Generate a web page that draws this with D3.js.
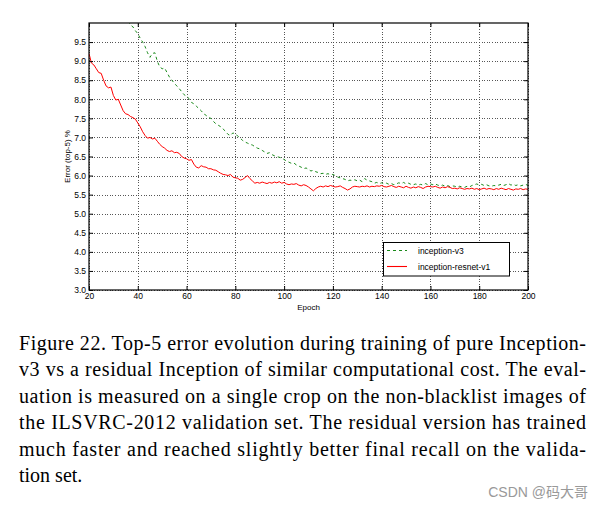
<!DOCTYPE html>
<html><head><meta charset="utf-8">
<script src="https://cdn.jsdelivr.net/npm/d3@7/dist/d3.min.js"></script>
<style>
html,body{margin:0;padding:0;background:#fff;}
svg{display:block;}
.cap{font-family:"Liberation Serif","Times New Roman",serif;}
</style></head>
<body>
<script>
// ---- DATA ----
const resnetEpochStart = 20;
const resnetValues = [
9.20,8.95,8.90,8.80,8.70,8.68,8.50,8.35,8.30,8.32,
8.10,7.98,8.00,7.85,7.70,7.62,7.60,7.55,7.52,7.48,
7.38,7.28,7.15,7.05,6.98,7.00,6.96,6.98,6.90,6.82,
6.76,6.72,6.66,6.63,6.65,6.60,6.61,6.58,6.50,6.46,
6.44,6.40,6.42,6.30,6.22,6.20,6.26,6.23,6.22,6.18,
6.18,6.15,6.14,6.10,6.06,6.03,6.02,6.00,6.03,5.96,
5.94,5.93,5.88,5.90,5.95,6.00,5.92,5.86,5.80,5.82,
5.80,5.83,5.81,5.79,5.82,5.80,5.83,5.81,5.84,5.80,
5.82,5.78,5.76,5.78,5.77,5.79,5.75,5.73,5.76,5.74,
5.70,5.65,5.60,5.66,5.70,5.72,5.70,5.73,5.71,5.74,
5.72,5.70,5.71,5.73,5.69,5.66,5.62,5.65,5.70,5.72,
5.71,5.70,5.72,5.71,5.73,5.70,5.72,5.71,5.73,5.72,
5.74,5.71,5.70,5.72,5.74,5.71,5.69,5.72,5.70,5.68,
5.72,5.69,5.67,5.70,5.68,5.71,5.69,5.66,5.70,5.72,
5.71,5.70,5.72,5.69,5.67,5.70,5.68,5.71,5.69,5.66,
5.67,5.65,5.68,5.66,5.64,5.66,5.65,5.67,5.64,5.66,
5.63,5.65,5.67,5.64,5.66,5.65,5.63,5.66,5.64,5.67,
5.65,5.63,5.66,5.64,5.62,5.65,5.64,5.66,5.63,5.65,
5.64
];
const v3EpochStart = 36;
const v3Values = [
10.05,9.95,9.90,9.80,9.72,9.60,9.50,9.38,9.22,9.10,
9.20,9.22,9.00,8.85,8.80,8.82,8.70,8.58,8.50,8.42,
8.35,8.28,8.20,8.12,8.08,8.02,7.92,7.88,7.82,7.76,
7.70,7.62,7.58,7.52,7.50,7.42,7.36,7.32,7.28,7.22,
7.16,7.08,7.05,7.12,7.08,7.04,6.98,6.92,6.88,6.85,
6.82,6.80,6.76,6.72,6.70,6.66,6.62,6.58,6.60,6.55,
6.52,6.50,6.48,6.46,6.42,6.38,6.35,6.32,6.33,6.28,
6.25,6.22,6.18,6.20,6.16,6.12,6.14,6.10,6.08,6.05,
6.06,6.03,6.05,6.02,6.03,6.00,5.96,5.94,5.92,5.90,
5.86,5.88,5.87,5.89,5.86,5.88,5.84,5.92,5.88,5.86,
5.84,5.80,5.82,5.79,5.81,5.78,5.80,5.77,5.79,5.76,
5.78,5.81,5.79,5.82,5.78,5.80,5.77,5.76,5.78,5.75,
5.77,5.75,5.79,5.76,5.78,5.76,5.78,5.75,5.73,5.75,
5.72,5.74,5.71,5.73,5.72,5.70,5.72,5.70,5.69,5.72,
5.70,5.74,5.76,5.78,5.75,5.77,5.74,5.76,5.73,5.72,
5.74,5.73,5.75,5.77,5.74,5.76,5.79,5.75,5.77,5.74,
5.76,5.73,5.75,5.77,5.74
];
const seriesNames = ["inception-v3", "inception-resnet-v1"];
const xTicks = [20,40,60,80,100,120,140,160,180,200];
const yTicks = [3.0,3.5,4.0,4.5,5.0,5.5,6.0,6.5,7.0,7.5,8.0,8.5,9.0,9.5];
const xLabel = "Epoch";
const yLabel = "Error (top-5) %";
const captionLines = [
 "Figure 22. Top-5 error evolution during training of pure Inception-",
 "v3 vs a residual Inception of similar computational cost. The eval-",
 "uation is measured on a single crop on the non-blacklist images of",
 "the ILSVRC-2012 validation set. The residual version has trained",
 "much faster and reached slightly better final recall on the valida-",
 "tion set."
];
const watermark = "CSDN @码大哥";

// ---- LAYOUT ----
const W = 604, H = 513;
const L = 89, R = 528, T = 23, B = 290;
const svg = d3.select("body").append("svg").attr("width", W).attr("height", H);

const x = d3.scaleLinear().domain([20,200]).range([L,R]);
const y = d3.scaleLinear().domain([3,10]).range([B,T]);

const resnet = resnetValues.map((v,i)=>({e:resnetEpochStart+i, v}));
const v3 = v3Values.map((v,i)=>({e:v3EpochStart+i, v}));

// grid
const gridX = svg.append("g").attr("transform",`translate(0,${B})`)
  .call(d3.axisBottom(x).tickValues(xTicks).tickSize(-(B-T)).tickFormat(""));
const gridY = svg.append("g").attr("transform",`translate(${L},0)`)
  .call(d3.axisLeft(y).tickValues(yTicks).tickSize(-(R-L)).tickFormat(""));
[gridX,gridY].forEach(g=>{
  g.select(".domain").remove();
  g.selectAll(".tick line").attr("stroke","#444").attr("stroke-width",0.9).attr("stroke-dasharray","1,1.6").attr("shape-rendering","crispEdges");
});

svg.append("clipPath").attr("id","clip").append("rect")
  .attr("x",L).attr("y",T).attr("width",R-L).attr("height",B-T);

const line = d3.line().x(d=>x(d.e)).y(d=>y(d.v));
svg.append("path").datum(v3).attr("clip-path","url(#clip)")
  .attr("d",line).attr("fill","none").attr("stroke","#1a8a1a").attr("stroke-width",1)
  .attr("stroke-dasharray","3,3");
svg.append("path").datum(resnet).attr("clip-path","url(#clip)")
  .attr("d",line).attr("fill","none").attr("stroke","#ff0000").attr("stroke-width",1);

// axes with inside ticks
const fontAx = "'Liberation Sans', Arial, sans-serif";
function styleAxis(g){
  g.select(".domain").remove();
  g.selectAll(".tick line").attr("stroke","#000").attr("stroke-width",1);
  g.selectAll("text").attr("font-family",fontAx).attr("font-size","8.5px").attr("fill","#000");
}
const axB = svg.append("g").attr("transform",`translate(0,${B})`)
  .call(d3.axisBottom(x).tickValues(xTicks).tickSizeInner(-4).tickSizeOuter(0).tickPadding(3).tickFormat(d3.format("d")));
styleAxis(axB);
const axL = svg.append("g").attr("transform",`translate(${L},0)`)
  .call(d3.axisLeft(y).tickValues(yTicks).tickSizeInner(-4).tickSizeOuter(0).tickPadding(3).tickFormat(d3.format(".1f")));
styleAxis(axL);
const axT = svg.append("g").attr("transform",`translate(0,${T})`)
  .call(d3.axisTop(x).tickValues(xTicks).tickSizeInner(-4).tickSizeOuter(0).tickFormat(""));
styleAxis(axT);
const axR = svg.append("g").attr("transform",`translate(${R},0)`)
  .call(d3.axisRight(y).tickValues(yTicks).tickSizeInner(-4).tickSizeOuter(0).tickFormat(""));
styleAxis(axR);

svg.append("rect").attr("x",L).attr("y",T).attr("width",R-L).attr("height",B-T)
  .attr("fill","none").attr("stroke","#000").attr("stroke-width",1.2);

svg.append("text").attr("x",(L+R)/2).attr("y",310).attr("text-anchor","middle")
  .attr("font-family",fontAx).attr("font-size","8px").text(xLabel);
svg.append("text").attr("transform",`translate(70,${(T+B)/2}) rotate(-90)`).attr("text-anchor","middle")
  .attr("font-family",fontAx).attr("font-size","8px").text(yLabel);

// legend
const lg = svg.append("g");
lg.append("rect").attr("x",383.5).attr("y",242.5).attr("width",126).attr("height",33.5)
  .attr("fill","#fff").attr("stroke","#000").attr("stroke-width",1);
const legItems = [
  {name:seriesNames[0], color:"#1a8a1a", dash:"3,3", yy:250.5},
  {name:seriesNames[1], color:"#ff0000", dash:null, yy:266.5}
];
legItems.forEach(it=>{
  lg.append("line").attr("x1",387).attr("x2",407).attr("y1",it.yy).attr("y2",it.yy)
    .attr("stroke",it.color).attr("stroke-width",1.1).attr("stroke-dasharray",it.dash);
  lg.append("text").attr("x",418).attr("y",it.yy+3).attr("font-family",fontAx)
    .attr("font-size","8.5px").text(it.name);
});

// caption
const capBase = [350, 376.4, 402.8, 429.2, 455.6, 482];
captionLines.forEach((t,i)=>{
  const tx = svg.append("text").attr("class","cap").attr("x",19).attr("y",capBase[i])
    .attr("font-size","20px").attr("fill","#000").text(t);
  if(i<captionLines.length-1) tx.attr("textLength",567).attr("lengthAdjust","spacing");
});
svg.append("text").attr("x",588).attr("y",497).attr("text-anchor","end")
  .attr("font-family","'Liberation Sans','Noto Sans CJK SC',sans-serif").attr("font-size","14px")
  .attr("fill","#999").text(watermark);
</script>
</body></html>
